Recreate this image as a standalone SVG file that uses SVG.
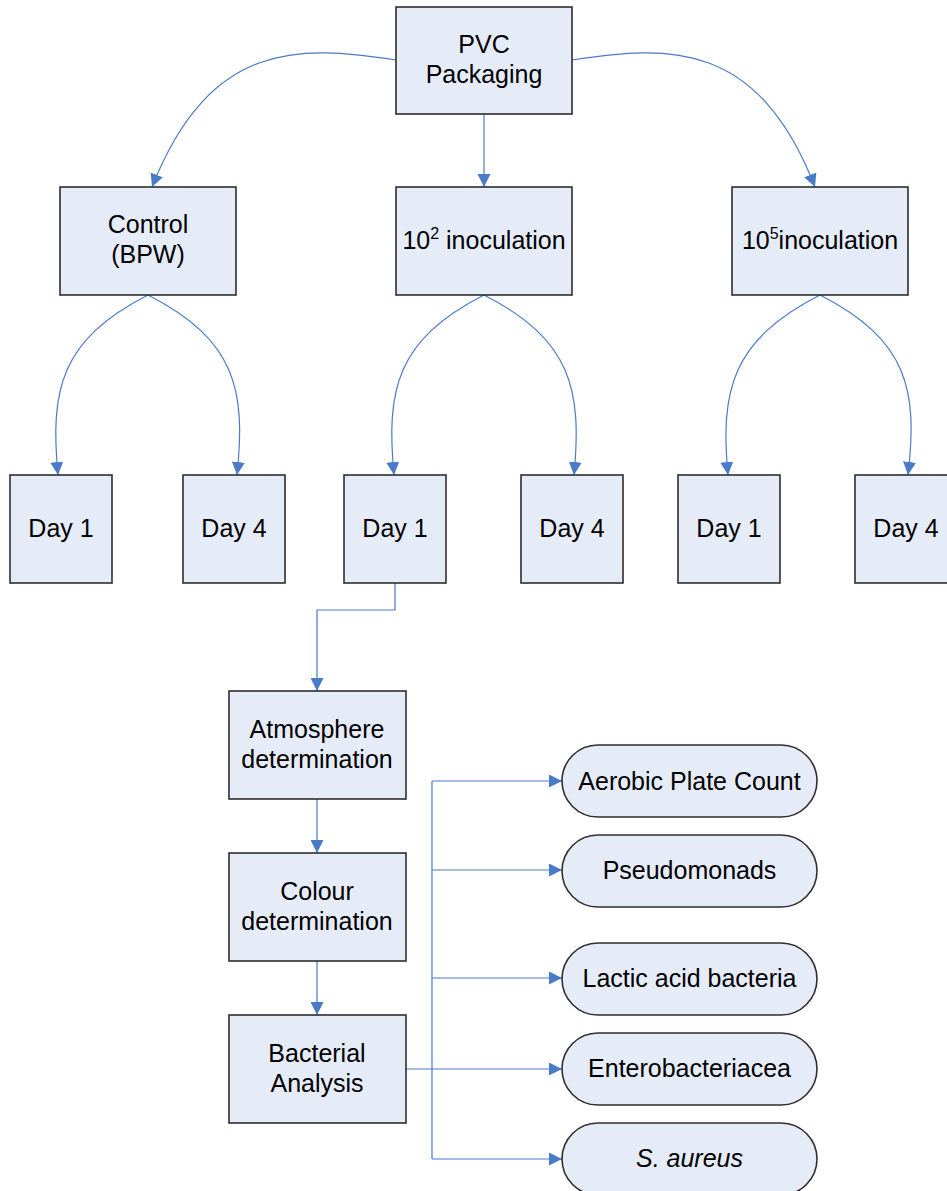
<svg xmlns="http://www.w3.org/2000/svg" width="947" height="1191" viewBox="0 0 947 1191">
<style>
.box{fill:#e6ecf7;stroke:#2e2e2e;stroke-width:1.6}
.t{font-family:"Liberation Sans",Arial,sans-serif;font-size:25px;fill:#000;text-anchor:middle}
.c{fill:none;stroke:#4a7bc8;stroke-width:1.2}
</style>
<defs>
<marker id="ah" viewBox="0 0 12 12" refX="12" refY="6" markerWidth="13" markerHeight="13" markerUnits="userSpaceOnUse" orient="auto">
<path d="M0,0 L12,6 L0,12 z" fill="#4a7bc8"/>
</marker>
</defs>
<g id="connectors">
<path class="c" marker-end="url(#ah)" d="M396,60 C300,45 210,40 152,187"/>
<path class="c" marker-end="url(#ah)" d="M572,60 C668,45 758,40 815,187"/>
<path class="c" marker-end="url(#ah)" d="M484,105 L484,187"/>
<path class="c" marker-end="url(#ah)" d="M148,295 C60,340 50,390 58,475"/>
<path class="c" marker-end="url(#ah)" d="M148,295 C236,340 246,390 237,475"/>
<path class="c" marker-end="url(#ah)" d="M484,295 C396,340 386,390 394,475"/>
<path class="c" marker-end="url(#ah)" d="M484,295 C572,340 582,390 574,475"/>
<path class="c" marker-end="url(#ah)" d="M820,295 C732,340 720,390 728,475"/>
<path class="c" marker-end="url(#ah)" d="M820,295 C908,340 918,390 908,475"/>
<path class="c" marker-end="url(#ah)" d="M395,583 L395,610 L317,610 L317,691"/>
<path class="c" marker-end="url(#ah)" d="M317,799 L317,853"/>
<path class="c" marker-end="url(#ah)" d="M317,961 L317,1015"/>
<path class="c" d="M406,1069 L432,1069 M432,781 L432,1159"/>
<path class="c" marker-end="url(#ah)" d="M432,781 L562,781"/>
<path class="c" marker-end="url(#ah)" d="M432,870 L562,870"/>
<path class="c" marker-end="url(#ah)" d="M432,978 L562,978"/>
<path class="c" marker-end="url(#ah)" d="M432,1069 L562,1069"/>
<path class="c" marker-end="url(#ah)" d="M432,1159 L562,1159"/>
</g>
<g id="pvc"><rect class="box" x="396" y="7" width="176" height="107"/><text class="t" x="484" y="53">PVC</text><text class="t" x="484" y="83">Packaging</text></g>
<g id="control"><rect class="box" x="60" y="187" width="176" height="108"/><text class="t" x="148" y="233">Control</text><text class="t" x="148" y="263">(BPW)</text></g>
<g id="inoc2"><rect class="box" x="396" y="187" width="176" height="108"/><text class="t" x="484" y="249">10<tspan font-size="16" dy="-10">2</tspan><tspan dy="10"> inoculation</tspan></text></g>
<g id="inoc5"><rect class="box" x="732" y="187" width="176" height="108"/><text class="t" x="820" y="249">10<tspan font-size="16" dy="-10">5</tspan><tspan dy="10">inoculation</tspan></text></g>
<g id="c_day1"><rect class="box" x="10" y="475" width="102" height="108"/><text class="t" x="61" y="537">Day 1</text></g>
<g id="c_day4"><rect class="box" x="183" y="475" width="102" height="108"/><text class="t" x="234" y="537">Day 4</text></g>
<g id="i2_day1"><rect class="box" x="344" y="475" width="102" height="108"/><text class="t" x="395" y="537">Day 1</text></g>
<g id="i2_day4"><rect class="box" x="521" y="475" width="102" height="108"/><text class="t" x="572" y="537">Day 4</text></g>
<g id="i5_day1"><rect class="box" x="678" y="475" width="102" height="108"/><text class="t" x="729" y="537">Day 1</text></g>
<g id="i5_day4"><rect class="box" x="855" y="475" width="102" height="108"/><text class="t" x="906" y="537">Day 4</text></g>
<g id="atmosphere"><rect class="box" x="229" y="691" width="177" height="108"/><text class="t" x="317" y="738">Atmosphere</text><text class="t" x="317" y="768">determination</text></g>
<g id="colour"><rect class="box" x="229" y="853" width="177" height="108"/><text class="t" x="317" y="900">Colour</text><text class="t" x="317" y="930">determination</text></g>
<g id="bacterial"><rect class="box" x="229" y="1015" width="177" height="108"/><text class="t" x="317" y="1062">Bacterial</text><text class="t" x="317" y="1092">Analysis</text></g>
<g id="apc"><rect class="box" x="562" y="745" width="255" height="72" rx="36"/><text class="t" x="689.5" y="790">Aerobic Plate Count</text></g>
<g id="pseudo"><rect class="box" x="562" y="835" width="255" height="72" rx="36"/><text class="t" x="689.5" y="879">Pseudomonads</text></g>
<g id="lactic"><rect class="box" x="562" y="943" width="255" height="72" rx="36"/><text class="t" x="689.5" y="987">Lactic acid bacteria</text></g>
<g id="entero"><rect class="box" x="562" y="1033" width="255" height="72" rx="36"/><text class="t" x="689.5" y="1077">Enterobacteriacea</text></g>
<g id="saureus"><rect class="box" x="562" y="1123" width="255" height="72" rx="36"/><text class="t" x="689.5" y="1167" font-style="italic">S. aureus</text></g>
</svg>
